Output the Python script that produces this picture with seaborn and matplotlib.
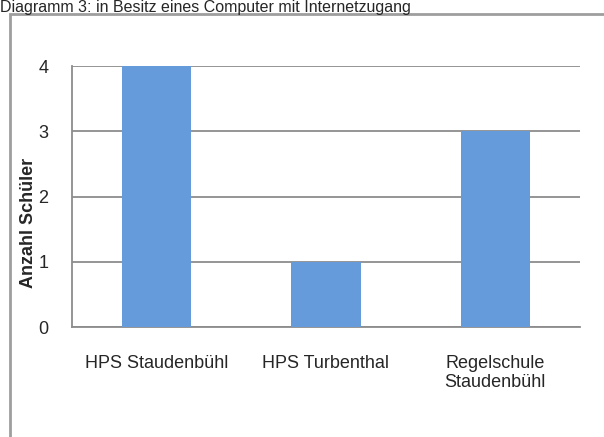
import matplotlib
matplotlib.use("Agg")
import matplotlib.pyplot as plt
import seaborn as sns
import pandas as pd
from matplotlib.patches import Rectangle

# Daten
schulen = ["HPS Staudenbühl", "HPS Turbenthal", "Regelschule\nStaudenbühl"]
anzahl = [4, 1, 3]
titel = "Diagramm 3: in Besitz eines Computer mit Internetzugang"

df = pd.DataFrame({"Schule": schulen, "Anzahl": anzahl})

sns.set_style("white")
plt.rcParams["font.family"] = ["Liberation Sans", "DejaVu Sans"]

fig = plt.figure(figsize=(6.04, 4.37), dpi=100)
ax = fig.add_axes([72 / 604, 1 - 327 / 437, 508 / 604, 261 / 437])

sns.barplot(data=df, x="Schule", y="Anzahl", color="#659ADB", width=0.41,
            saturation=1, linewidth=0, ax=ax, zorder=3)

ax.set_ylim(0, 4)
ax.set_xlim(-0.5, 2.5)
ax.set_yticks([0, 1, 2, 3, 4])
ax.yaxis.grid(True, color="#8C8C8C", linewidth=1.3, zorder=0)
ax.set_axisbelow(True)
for s in ["top", "right"]:
    ax.spines[s].set_visible(False)
for s in ["left", "bottom"]:
    ax.spines[s].set_color("#8C8C8C")
    ax.spines[s].set_linewidth(1.3)

# Teilstriche an den Kategoriegrenzen
ax.set_xticks([-0.5, 0.5, 1.5, 2.5])
ax.set_xticklabels([])
ax.set_xticks([0, 1, 2], minor=True)
ax.set_xticklabels(schulen, minor=True, fontsize=13, linespacing=1.15)
ax.tick_params(axis="x", which="major", direction="out", length=5, color="#8C8C8C", width=1.3)
ax.tick_params(axis="x", which="minor", length=0, pad=20)
ax.tick_params(axis="y", direction="out", length=5, color="#8C8C8C", width=1.3,
               labelsize=13, pad=12)

ax.set_xlabel("")
ax.set_ylabel("Anzahl Schüler", fontsize=13, fontweight="bold")
ax.yaxis.set_label_coords(-0.068, 0.40)

# Rahmen um das Diagramm
fig.patches.append(Rectangle((10 / 604, -0.02), 0.995, 1 - 14 / 437 + 0.02,
                             transform=fig.transFigure, fill=False,
                             edgecolor="#9E9E9E", linewidth=2))
fig.text(0.0, 1.0, titel, fontsize=11.5, va="top", ha="left")

fig.savefig("out.png", dpi=100)
